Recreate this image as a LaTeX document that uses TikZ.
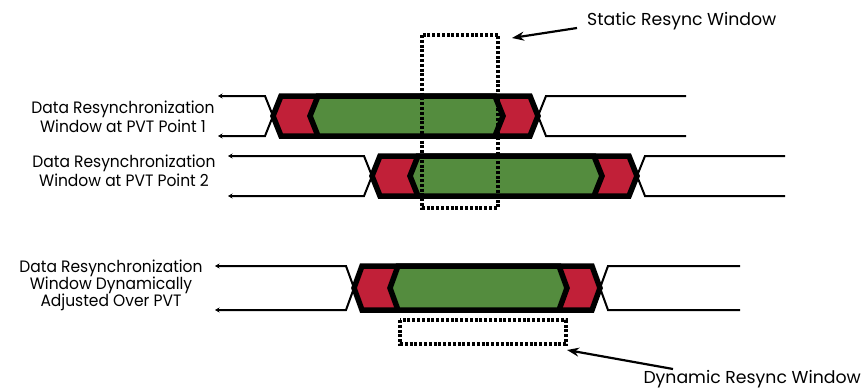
\documentclass[tikz,border=0pt]{standalone}
\usepackage{fontspec}
\setmainfont{Poppins}
\newfontfamily\rowfont[FakeStretch=0.94]{Poppins}
\usetikzlibrary{arrows.meta}
\definecolor{eyered}{RGB}{193,32,56}
\definecolor{eyegreen}{RGB}{84,140,62}
\tikzset{
  sig/.style={line width=2pt, line join=miter},
  band/.style={line width=5.5pt, draw=black, line join=miter},
  winbox/.style={line width=3.2pt, dash pattern=on 3pt off 1.8pt},
  callout/.style={line width=2.2pt, -{Stealth[length=12pt,width=9pt]}},
  lbl/.style={font=\rowfont\fontsize{16.5}{19}\selectfont, align=center, inner sep=0pt},
  calltext/.style={font=\fontsize{17.3}{20}\selectfont, inner sep=0pt},
  starttip/.style={{Stealth[length=4.5pt,width=5pt]}-},
}
% #1 mid y, #2 half height, #3 left crossing x, #4 right crossing x,
% #5 green left tip x, #6 green right tip x, #7 right end x, #8 left start x
\newcommand\eyeband[8]{%
  \def\sl{8}%
  \draw[sig, starttip] (#8,#1-#2) -- (#3-\sl,#1-#2) -- (#3+\sl,#1+#2);
  \draw[sig, starttip] (#8,#1+#2) -- (#3-\sl,#1+#2) -- (#3+\sl,#1-#2);
  \draw[sig] (#4-\sl,#1-#2) -- (#4+\sl,#1+#2) -- (#7,#1+#2);
  \draw[sig] (#4-\sl,#1+#2) -- (#4+\sl,#1-#2) -- (#7,#1-#2);
  \filldraw[band, fill=eyered] (#3,#1) -- (#3+\sl,#1-#2) -- (#4-\sl,#1-#2)
    -- (#4,#1) -- (#4-\sl,#1+#2) -- (#3+\sl,#1+#2) -- cycle;
  \filldraw[band, fill=eyegreen] (#5,#1) -- (#5+\sl,#1-#2) -- (#6-\sl,#1-#2)
    -- (#6,#1) -- (#6-\sl,#1+#2) -- (#5+\sl,#1+#2) -- cycle;
}
\begin{document}
\begin{tikzpicture}[x=1pt,y=-1pt]
\useasboundingbox (0,0) rectangle (865,388);

% the three data windows
\eyeband{116}{20}{273}{538}{310}{503}{686}{218}
\eyeband{176}{20}{372}{637}{410}{602}{785}{228}
\eyeband{288}{22}{354}{600}{390}{567}{740}{215}

% row labels
\node[lbl] (row1) at (123,117) {Data Resynchronization\\Window at PVT Point 1};
\node[lbl] (row2) at (124,171) {Data Resynchronization\\Window at PVT Point 2};
\node[lbl, font=\rowfont\fontsize{16.5}{17}\selectfont] (row3) at (111,285)
  {Data Resynchronization\\Window Dynamically\\Adjusted Over PVT};

% resync windows
\draw[winbox] (422,35) rectangle (498,208);
\coordinate (swin) at (498,35);
\draw[winbox] (400,320) rectangle (566,344);
\coordinate (dwin) at (566,344);

% callouts
\node[calltext, anchor=base west] (slabel) at (587,25) {Static Resync Window};
\node[calltext, anchor=base east] (dlabel) at (861,383) {Dynamic Resync Window};
\coordinate (stail) at (577,28);
\coordinate (shead) at (512,38);
\coordinate (dtail) at (673,369);
\coordinate (dhead) at (567,350);
\draw[callout] (stail) -- (shead);
\draw[callout] (dtail) -- (dhead);
\end{tikzpicture}
\end{document}
